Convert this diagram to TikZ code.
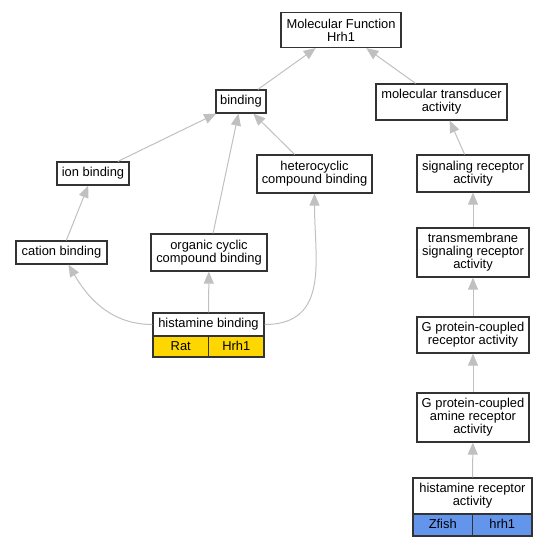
\documentclass[tikz,border=0pt]{standalone}
\usepackage{fontspec}
\setmainfont{Liberation Sans}
\usepackage{tikz}
\usetikzlibrary{arrows.meta, positioning}
\definecolor{ratgold}{HTML}{FFD700}
\definecolor{fishblue}{HTML}{6495ED}
\definecolor{isagray}{HTML}{C0C0C0}
\definecolor{boxline}{HTML}{333333}

\begin{document}
\begin{tikzpicture}[x=1pt, y=1pt,
    Term/.style={draw=boxline, line width=1.2pt, fill=white, align=center, inner sep=1pt,
        font=\fontsize{12.9}{13}\selectfont},
    Cell/.style={Term, text height=9.5pt, text depth=2.5pt},
    Rat/.style={Cell, fill=ratgold, minimum width=55.5pt, minimum height=21pt},
    Fish/.style={Cell, fill=fishblue, minimum width=59.5pt, minimum height=22pt},
    Isa/.style={draw=isagray, line width=1pt, -{Triangle[length=12pt, width=10pt]}}]
    \useasboundingbox (0,0) rectangle (548,-547);
    \node[Term, minimum width=120pt, minimum height=35pt] (mf) at (341,-30) {Molecular Function\\Hrh1};
    \node[Term, minimum width=50pt, minimum height=23pt] (bind) at (241,-101.5) {binding};
    \node[Term, minimum width=131pt, minimum height=36pt] (mta) at (441.5,-102) {molecular transducer\\activity};
    \node[Term, minimum width=72pt, minimum height=23pt] (ion) at (93,-173.5) {ion binding};
    \node[Term, minimum width=115pt, minimum height=38pt] (het) at (314.5,-174) {heterocyclic\\compound binding};
    \node[Term, minimum width=112pt, minimum height=37pt] (sra) at (473,-173.5) {signaling receptor\\activity};
    \node[Term, minimum width=91pt, minimum height=23pt] (cat) at (61.5,-252.5) {cation binding};
    \node[Term, minimum width=116pt, minimum height=37pt] (occ) at (209,-252.5) {organic cyclic\\compound binding};
    \node[Term, minimum width=112pt, minimum height=49pt] (tsra) at (473,-252.5) {transmembrane\\signaling receptor\\activity};
    \node[Term, minimum width=112pt, minimum height=36pt] (gpcr) at (473,-335) {G protein-coupled\\receptor activity};
    \node[Term, minimum width=112pt, minimum height=49pt] (amine) at (473,-417.5) {G protein-coupled\\amine receptor\\activity};
    \node[Term, minimum width=111pt, minimum height=23pt] (hb) at (208.5,-324.5) {histamine binding};
    \node[Term, minimum width=119pt, minimum height=36pt] (hra) at (472.5,-496) {histamine receptor\\activity};
    \node[Rat, anchor=north west] (hbrat) at ([yshift=1.2pt]hb.south west) {Rat};
    \node[Rat, right=-1.2pt of hbrat] (hbgene) {Hrh1};
    \node[Fish, anchor=north west] (hrafish) at ([yshift=1.2pt]hra.south west) {Zfish};
    \node[Fish, right=-1.2pt of hrafish] (hragene) {hrh1};
    \draw[Isa] (bind) -- (mf);
    \draw[Isa] (mta) -- (mf);
    \draw[Isa] (ion) -- (bind);
    \draw[Isa] (occ) -- (bind);
    \draw[Isa] (het) -- (bind);
    \draw[Isa] (sra) -- (mta);
    \draw[Isa] (cat) -- (ion);
    \draw[Isa] (hb) to[out=180, in=-60] (cat);
    \draw[Isa] (hb) -- (occ);
    \draw[Isa] (hb) to[out=0, in=-90, looseness=1.2] (het);
    \draw[Isa] (tsra) -- (sra);
    \draw[Isa] (gpcr) -- (tsra);
    \draw[Isa] (amine) -- (gpcr);
    \draw[Isa] (hra) -- (amine);
\end{tikzpicture}
\end{document}
